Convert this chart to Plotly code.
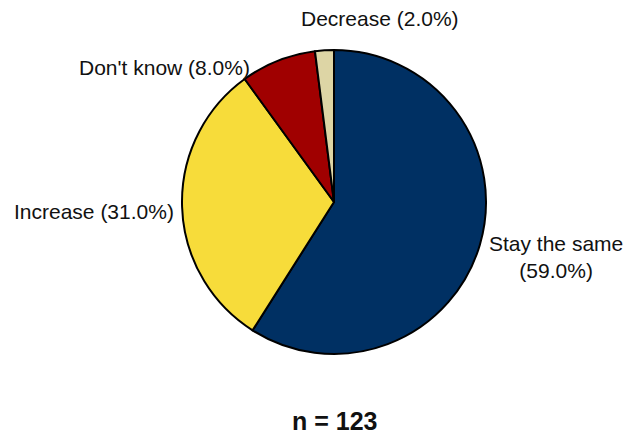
import math
import plotly.graph_objects as go

labels = ["Stay the same", "Increase", "Don't know", "Decrease"]
values = [59.0, 31.0, 8.0, 2.0]
colors = ["#003063", "#F7DC3A", "#A00000", "#DDD5A5"]
n_text = "n = 123"

W, H = 627, 436
cx, cy, r = 334, 202, 152
FONT = "Liberation Sans, Arial, sans-serif"

# per-label styling: line break and pixel nudges for annotation placement
label_style = {
    "Stay the same": dict(brk="<br>", dx=-1, dy=-10, xanchor="left"),
    "Increase": dict(brk=" ", dx=2, dy=-4, xanchor="right"),
    "Don't know": dict(brk=" ", dx=-23, dy=-14, xanchor="right"),
    "Decrease": dict(brk=" ", dx=56, dy=24, xanchor="center"),
}

fig = go.Figure(go.Pie(
    labels=labels, values=values, textinfo="none",
    sort=False, direction="clockwise", rotation=0,
    marker=dict(colors=colors, line=dict(color="black", width=2)),
    domain=dict(x=[(cx - r) / W, (cx + r) / W], y=[1 - (cy + r) / H, 1 - (cy - r) / H]),
    showlegend=False, hoverinfo="skip",
))

total = sum(values)
cum = 0.0
for lab, v in zip(labels, values):
    mid = (cum + v / 2) / total * 2 * math.pi
    cum += v
    st = label_style[lab]
    px = cx + (r + 8) * math.sin(mid)
    py = cy - (r + 8) * math.cos(mid)
    fig.add_annotation(
        text=f"{lab}{st['brk']}({v / total * 100:.1f}%)",
        x=px / W, y=1 - py / H, xref="paper", yref="paper",
        xanchor=st["xanchor"], yanchor="middle", align="center",
        xshift=st["dx"], yshift=st["dy"], showarrow=False,
        font=dict(family=FONT, size=21, color="#111"),
    )

fig.add_annotation(text=f"<b>{n_text}</b>", x=cx / W, y=1 - 421 / H, xref="paper", yref="paper",
                   xanchor="center", yanchor="middle",
                   showarrow=False, font=dict(family=FONT, size=25, color="#111"))
fig.update_layout(width=W, height=H, margin=dict(l=0, r=0, t=0, b=0),
                  paper_bgcolor="white", plot_bgcolor="white")
fig.write_html("out.html")
